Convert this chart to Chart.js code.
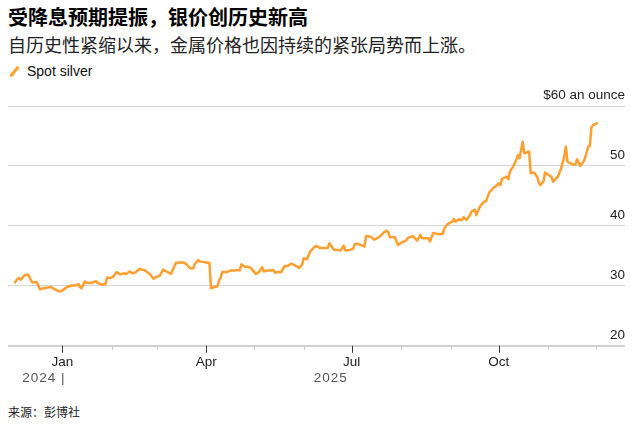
<!DOCTYPE html>
<html>
<head>
<meta charset="utf-8">
<script src="https://cdn.jsdelivr.net/npm/chart.js@4/dist/chart.umd.min.js"></script>
<style>
  body { margin: 0; width: 639px; height: 429px; background: #fff; position: relative; overflow: hidden; }
  #title { position: absolute; left: 8px; top: 5px; font: bold 20px/24px "Noto Sans CJK SC", sans-serif; color: #000; white-space: nowrap; }
  #subtitle { position: absolute; left: 8px; top: 32px; font: 18px/24px "Noto Sans CJK SC", sans-serif; color: #222; white-space: nowrap; }
  #legend { position: absolute; left: 8px; top: 61px; font: 14px/20px "Liberation Sans", Arial, sans-serif; color: #111; }
  #legend i { display: inline-block; width: 3px; height: 13px; background: #ff9f2f; border-radius: 2px; transform: rotate(40deg); margin: 0 11px 0 5px; vertical-align: -2px; }
  #source { position: absolute; left: 8px; top: 403px; font: 12px/18px "Noto Sans CJK SC", sans-serif; color: #222; }
  #wrap { position: absolute; left: 0; top: 80px; width: 639px; height: 320px; }
</style>
</head>
<body>
<div id="title">受降息预期提振，银价创历史新高</div>
<div id="subtitle">自历史性紧缩以来，金属价格也因持续的紧张局势而上涨。</div>
<div id="legend"><i></i>Spot silver</div>
<div id="wrap"><canvas id="silverChart"></canvas></div>
<div id="source">来源：彭博社</div>
<script>
const dates = [
  '2024-12-02','2024-12-04','2024-12-05','2024-12-06','2024-12-08','2024-12-10','2024-12-11','2024-12-13','2024-12-16','2024-12-18','2024-12-20','2024-12-22','2024-12-25','2024-12-27','2024-12-29','2024-12-31',
  '2025-01-02','2025-01-04','2025-01-07','2025-01-09','2025-01-11','2025-01-12','2025-01-13','2025-01-15','2025-01-17','2025-01-20','2025-01-22','2025-01-23','2025-01-26','2025-01-28','2025-01-29','2025-01-31',
  '2025-02-02','2025-02-04','2025-02-06','2025-02-07','2025-02-09','2025-02-10','2025-02-12','2025-02-14','2025-02-16','2025-02-18','2025-02-20','2025-02-21','2025-02-23','2025-02-25','2025-02-27',
  '2025-03-01','2025-03-03','2025-03-05','2025-03-07','2025-03-10','2025-03-13','2025-03-15','2025-03-18','2025-03-20','2025-03-22','2025-03-24','2025-03-25','2025-03-27','2025-03-28','2025-03-30',
  '2025-04-01','2025-04-03','2025-04-04','2025-04-06','2025-04-08','2025-04-09','2025-04-10','2025-04-11','2025-04-14','2025-04-16','2025-04-18','2025-04-21','2025-04-22','2025-04-23','2025-04-25','2025-04-27','2025-04-29',
  '2025-05-02','2025-05-04','2025-05-06','2025-05-07','2025-05-09','2025-05-11','2025-05-13','2025-05-14','2025-05-16','2025-05-18','2025-05-20','2025-05-22','2025-05-24','2025-05-26','2025-05-28','2025-05-29','2025-05-31',
  '2025-06-01','2025-06-03','2025-06-05','2025-06-07','2025-06-09','2025-06-11','2025-06-13','2025-06-16','2025-06-17','2025-06-20','2025-06-22','2025-06-24','2025-06-26','2025-06-27','2025-06-30',
  '2025-07-02','2025-07-03','2025-07-05','2025-07-07','2025-07-09','2025-07-10','2025-07-13','2025-07-15','2025-07-17','2025-07-19','2025-07-21','2025-07-23','2025-07-24','2025-07-25','2025-07-28','2025-07-30',
  '2025-08-01','2025-08-04','2025-08-05','2025-08-08','2025-08-09','2025-08-11','2025-08-13','2025-08-14','2025-08-17','2025-08-18','2025-08-19','2025-08-21','2025-08-23','2025-08-25','2025-08-27','2025-08-28','2025-08-30',
  '2025-09-02','2025-09-03','2025-09-04','2025-09-06','2025-09-08','2025-09-09','2025-09-11','2025-09-13','2025-09-14','2025-09-16','2025-09-17','2025-09-19','2025-09-20','2025-09-22','2025-09-23','2025-09-25','2025-09-27','2025-09-28','2025-09-29',
  '2025-10-01','2025-10-02','2025-10-03','2025-10-04','2025-10-06','2025-10-07','2025-10-08','2025-10-10','2025-10-12','2025-10-13','2025-10-14','2025-10-16','2025-10-17','2025-10-18','2025-10-20','2025-10-21','2025-10-23','2025-10-25','2025-10-26','2025-10-27','2025-10-29','2025-10-30',
  '2025-11-01','2025-11-03','2025-11-04','2025-11-06','2025-11-07','2025-11-09','2025-11-11','2025-11-12','2025-11-13','2025-11-16','2025-11-18','2025-11-19','2025-11-21','2025-11-23','2025-11-24','2025-11-26','2025-11-27','2025-11-28','2025-11-29','2025-12-02'
];

const silver = [
  30.45, 31.2, 31.3, 31.0, 31.7, 31.9, 31.7, 30.6, 30.6, 29.4, 29.6, 29.7, 29.8, 29.45, 29.2, 29.05,
  29.45, 29.8, 30.05, 30.05, 30.3, 29.8, 29.6, 30.7, 30.45, 30.55, 30.8, 30.5, 30.2, 30.3, 31.4, 31.3,
  31.55, 32.3, 31.95, 31.95, 32.1, 31.95, 32.4, 32.1, 32.3, 32.8, 32.7, 32.7, 32.3, 31.9, 31.2,
  31.5, 31.7, 32.7, 32.4, 32.0, 33.8, 33.9, 33.9, 33.5, 32.95, 32.95, 33.7, 34.3, 34.05, 34.0,
  33.9, 33.8, 29.6, 29.8, 29.9, 30.9, 31.3, 32.3, 32.3, 32.55, 32.55, 32.6, 32.6, 33.6, 33.2, 33.2, 32.95,
  32.0, 32.3, 33.1, 32.4, 32.55, 32.55, 32.65, 32.2, 32.3, 32.3, 33.3, 33.3, 33.7, 33.5, 33.2, 32.95, 33.5,
  34.6, 34.45, 35.7, 36.3, 36.7, 36.3, 36.3, 36.3, 37.1, 36.0, 36.0, 35.9, 36.7, 35.9, 36.0,
  36.2, 37.0, 37.0, 36.8, 36.55, 38.3, 38.2, 37.7, 37.95, 38.3, 38.9, 39.2, 38.9, 38.1, 38.1, 36.8,
  37.2, 37.55, 37.95, 38.3, 38.1, 37.55, 38.5, 37.95, 37.95, 37.95, 37.4, 38.8, 38.7, 38.6, 38.7, 39.6, 40.3,
  40.7, 41.15, 40.7, 41.1, 40.95, 41.45, 41.0, 41.8, 42.4, 42.7, 41.8, 43.1, 43.5, 44.05, 44.05, 45.55, 46.1, 46.45, 46.55,
  47.1, 46.8, 47.8, 47.95, 48.2, 47.8, 49.05, 49.9, 51.0, 51.8, 51.3, 54.05, 52.1, 52.2, 52.4, 48.8, 48.9, 48.2, 47.3, 46.8, 47.4, 48.9,
  48.5, 48.2, 47.4, 47.95, 48.2, 49.6, 51.55, 53.2, 50.7, 50.3, 50.2, 51.1, 50.0, 50.7, 51.3, 53.2, 53.3, 56.45, 56.8, 57.2
];

const monthStarts = ['2025-01-01','2025-02-01','2025-03-01','2025-04-01','2025-05-01','2025-06-01','2025-07-01','2025-08-01','2025-09-01','2025-10-01','2025-11-01','2025-12-01'];
const monthLabels = { '2025-01-01': 'Jan', '2025-04-01': 'Apr', '2025-07-01': 'Jul', '2025-10-01': 'Oct' };
const yearLabels = [
  { at: '2025-01-01', text: '2024', bar: true },
  { at: '2025-07-01', text: '2025', bar: false }
];
const yTicks = [20, 30, 40, 50, 60];

// days since 1 Jan 2025
function dayOf(s) {
  const p = s.split('-').map(Number);
  return (Date.UTC(p[0], p[1] - 1, p[2]) - Date.UTC(2025, 0, 1)) / 86400000;
}

const tickDays = monthStarts.map(dayOf);

const axisMarks = {
  id: 'axisMarks',
  afterDraw(chart) {
    const xs = chart.scales.x;
    const ctx = chart.ctx;
    const bottom = chart.chartArea.bottom;
    ctx.save();
    monthStarts.forEach(d => {
      const px = Math.round(xs.getPixelForValue(dayOf(d))) + 0.5;
      const major = !!monthLabels[d];
      ctx.strokeStyle = major ? '#333' : '#c8c8c8';
      ctx.lineWidth = 1;
      ctx.beginPath();
      ctx.moveTo(px, bottom);
      ctx.lineTo(px, bottom + (major ? 7 : 4));
      ctx.stroke();
    });
    ctx.font = '13.5px "Liberation Sans", Arial, sans-serif';
    ctx.fillStyle = '#555';
    ctx.textBaseline = 'middle';
    ctx.letterSpacing = '1px';
    const ly = bottom + 32;
    yearLabels.forEach(y => {
      const px = xs.getPixelForValue(dayOf(y.at));
      ctx.textAlign = 'right';
      if (y.bar) {
        ctx.fillText(y.text, px - 6, ly);
        ctx.textAlign = 'center';
        ctx.fillText('|', px + 1, ly);
      } else {
        ctx.fillText(y.text, px - 4, ly);
      }
    });
    ctx.restore();
  }
};

const ctx = document.getElementById('silverChart').getContext('2d');

const data = {
  datasets: [
    {
      label: 'Spot silver',
      data: dates.map((d, i) => ({ x: dayOf(d), y: silver[i] })),
      borderColor: '#ff9f2f',
      borderWidth: 2.5,
      pointRadius: 0,
      tension: 0,
      borderJoinStyle: 'round'
    }
  ]
};

const options = {
  responsive: true,
  maintainAspectRatio: false,
  animation: false,
  layout: { padding: { left: 8, right: 14, top: 26, bottom: 22 } },
  plugins: { legend: { display: false }, tooltip: { enabled: false } },
  scales: {
    x: {
      type: 'linear',
      min: -34,
      max: 352,
      afterBuildTicks: axis => { axis.ticks = tickDays.map(v => ({ value: v })); },
      ticks: {
        autoSkip: false,
        maxRotation: 0,
        padding: 8,
        color: '#222',
        font: { family: '"Liberation Sans", Arial, sans-serif', size: 13.5 },
        callback: value => {
          const i = tickDays.indexOf(value);
          return i >= 0 ? (monthLabels[monthStarts[i]] || '') : '';
        }
      },
      grid: { display: false, drawTicks: false },
      border: { display: false }
    },
    y: {
      position: 'right',
      min: 20,
      max: 60,
      afterBuildTicks: axis => { axis.ticks = yTicks.map(v => ({ value: v })); },
      ticks: {
        mirror: true,
        padding: 0,
        labelOffset: -11,
        color: '#222',
        font: { family: '"Liberation Sans", Arial, sans-serif', size: 13.5 },
        callback: value => value === 60 ? '$60 an ounce' : String(value)
      },
      grid: {
        drawTicks: false,
        color: c => c.tick && c.tick.value === 20 ? '#d2d2d2' : '#d4d4d4',
        lineWidth: c => c.tick && c.tick.value === 20 ? 2 : 1
      },
      border: { display: false }
    }
  }
};

new Chart(ctx, { type: 'line', data: data, options: options, plugins: [axisMarks] });
</script>
</body>
</html>
